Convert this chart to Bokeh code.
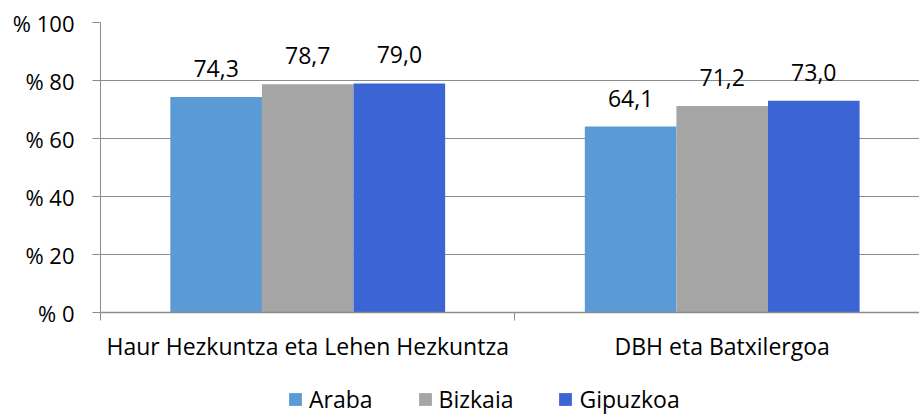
from bokeh.plotting import figure
from bokeh.layouts import column
from bokeh.models import (ColumnDataSource, FixedTicker, Legend, LegendItem,
                          LabelSet, Range1d)
from bokeh.core.properties import value
from bokeh.embed import file_html
from bokeh.resources import INLINE

categories = ["Haur Hezkuntza eta Lehen Hezkuntza", "DBH eta Batxilergoa"]
series = ["Araba", "Bizkaia", "Gipuzkoa"]
araba = [74.3, 64.1]
bizkaia = [78.7, 71.2]
gipuzkoa = [79.0, 73.0]
colors = ["#5B9BD5", "#A5A5A5", "#3B64D4"]
y_ticks = [0, 20, 40, 60, 80, 100]
y_tick_labels = ["% 0", "% 20", "% 40", "% 60", "% 80", "% 100"]

FONT = "Open Sans"
FS = "23px"
GRID = "#8C8C8C"

cat_pos = [i + 0.5 for i in range(len(categories))]
bar_w = 0.221
offsets = [-bar_w, 0.0, bar_w]

p = figure(width=919, height=380, x_range=Range1d(0, 1.976), y_range=Range1d(0, 100),
           output_backend="svg", toolbar_location=None,
           min_border_left=100, min_border_right=0, min_border_top=22, min_border_bottom=68)
p.outline_line_color = None

# legend figure below
p2 = figure(width=919, height=35, x_range=Range1d(0, 1), y_range=Range1d(0, 1),
            output_backend="svg", toolbar_location=None,
            min_border_left=0, min_border_right=0, min_border_top=0, min_border_bottom=0)
p2.outline_line_color = None
p2.axis.visible = False
p2.grid.visible = False

items = []
for name, vals, col, off in zip(series, [araba, bizkaia, gipuzkoa], colors, offsets):
    src = ColumnDataSource(dict(x=[c + off for c in cat_pos], top=vals,
                                lab=[f"{v:.1f}".replace(".", ",") for v in vals]))
    r = p.vbar(x="x", top="top", bottom=0, width=bar_w, source=src,
               fill_color=col, line_color=None)
    lbl = LabelSet(x="x", y="top", text="lab", source=src, y_offset=20,
                   text_align="center", text_baseline="alphabetic",
                   text_font=value(FONT), text_font_size=FS, text_color="#000000")
    p.add_layout(lbl)
    # proxy renderer (outside the visible range) for the legend swatch
    r2 = p2.vbar(x=[10], top=[-10], bottom=-11, width=0.1, fill_color=col, line_color=None)
    items.append(LegendItem(label=name, renderers=[r2]))

# Y axis
p.yaxis.ticker = FixedTicker(ticks=y_ticks)
p.yaxis.major_label_overrides = {t: l for t, l in zip(y_ticks, y_tick_labels)}
p.yaxis.minor_tick_line_color = None
p.yaxis.major_tick_out = 8
p.yaxis.major_tick_in = 0
p.yaxis.major_tick_line_color = GRID
p.yaxis.axis_line_color = GRID
p.yaxis.major_label_standoff = 18
p.yaxis.major_label_text_font = FONT
p.yaxis.major_label_text_font_size = "22px"
p.yaxis.major_label_text_color = "#000000"

# X axis
p.xaxis.ticker = FixedTicker(ticks=cat_pos, minor_ticks=[0, 1, 2])
p.xaxis.major_label_overrides = {c: n for c, n in zip(cat_pos, categories)}
p.xaxis.major_tick_line_color = None
p.xaxis.major_tick_out = 0
p.xaxis.major_tick_in = 0
p.xaxis.minor_tick_out = 8
p.xaxis.minor_tick_in = 0
p.xaxis.minor_tick_line_color = GRID
p.xaxis.axis_line_color = GRID
p.xaxis.axis_line_width = 1.5
p.xaxis.major_label_standoff = 9
p.xaxis.major_label_text_font = FONT
p.xaxis.major_label_text_font_size = FS
p.xaxis.major_label_text_color = "#000000"

p.xgrid.grid_line_color = None
p.ygrid.ticker = FixedTicker(ticks=y_ticks)
p.ygrid.grid_line_color = GRID
p.ygrid.grid_line_width = 1.2

legend = Legend(items=items, location=(187, 0), orientation="horizontal",
                glyph_width=16, glyph_height=16, label_standoff=6, spacing=44,
                padding=0, margin=0, border_line_color=None, background_fill_alpha=0,
                label_text_font=FONT, label_text_font_size=FS, label_text_color="#000000")
p2.add_layout(legend)

open("out.html", "w").write(file_html(column(p, p2, spacing=0), INLINE))
